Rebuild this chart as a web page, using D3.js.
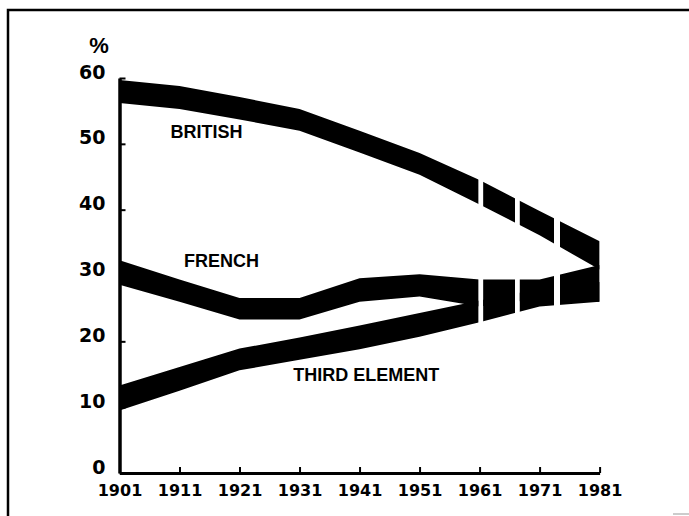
<!DOCTYPE html>
<html>
<head>
<meta charset="utf-8">
<script src="https://cdn.jsdelivr.net/npm/d3@7"></script>
<style>
  body { margin: 0; background: #fff; }
  svg { display: block; }
  text { font-family: "Liberation Sans", Arial, sans-serif; font-weight: bold; fill: #000; }
  .tick text { font-family: "DejaVu Sans", sans-serif; }
</style>
</head>
<body>
<div id="chart"></div>
<script>
// census years and tick labels
const years = [1901, 1911, 1921, 1931, 1941, 1951, 1961, 1971, 1981];
const yTicks = [0, 10, 20, 30, 40, 50, 60];

// each group is drawn as a band between a low and a high estimate (%)
const britishHigh = [59.7, 58.8, 57.1, 55.3, 52.0, 48.6, 44.5, 39.8, 35.2];
const britishLow  = [56.2, 55.3, 53.7, 52.0, 48.7, 45.3, 40.8, 36.1, 30.9];
const frenchHigh  = [32.3, 29.4, 26.6, 26.6, 29.6, 30.2, 29.4, 29.4, 31.6];
const frenchLow   = [28.6, 26.0, 23.3, 23.3, 26.0, 26.8, 25.3, 26.5, 26.0];
const thirdHigh   = [13.3, 16.1, 18.9, 20.6, 22.4, 24.3, 26.2, 28.0, 29.0];
const thirdLow    = [9.5, 12.5, 15.6, 17.2, 18.8, 20.7, 22.9, 25.3, 26.0];

// the bands are broken into dashes after 1961 (year ranges that are drawn)
const dashes = [[1901, 1960.8], [1961.6, 1966.9], [1967.7, 1973.4], [1974.4, 1981]];

const labels = [
  {text: 'BRITISH', year: 1915.5, value: 51.8},
  {text: 'FRENCH', year: 1918.0, value: 32.2},
  {text: 'THIRD ELEMENT', year: 1942.1, value: 14.9}
];

const width = 689, height = 516;
const svg = d3.select('#chart').append('svg')
  .attr('width', width)
  .attr('height', height);

// scanned frame round the figure
svg.append('path')
  .attr('d', 'M8,516 V10 H689')
  .attr('fill', 'none')
  .attr('stroke', '#000')
  .attr('stroke-width', 2.5);
svg.append('line')
  .attr('x1', 673).attr('x2', 689).attr('y1', 514).attr('y2', 514)
  .attr('stroke', '#bbb').attr('stroke-width', 1.5);

const x = d3.scaleLinear().domain([1901, 1981]).range([119.5, 599.6]);
const y = d3.scaleLinear().domain([0, 60]).range([473, 78]);

// clip for the dashed part
const clip = svg.append('clipPath').attr('id', 'dash-clip');
clip.selectAll('rect')
  .data(dashes)
  .enter()
  .append('rect')
  .attr('x', d => x(d[0]))
  .attr('width', d => x(d[1]) - x(d[0]))
  .attr('y', 0)
  .attr('height', height);

const bands = [
  {high: britishHigh, low: britishLow},
  {high: frenchHigh, low: frenchLow},
  {high: thirdHigh, low: thirdLow}
];

const area = d3.area()
  .x((d, i) => x(years[i]))
  .y0((d, i) => y(d.low))
  .y1((d, i) => y(d.high));

const g = svg.append('g').attr('clip-path', 'url(#dash-clip)');
g.selectAll('path')
  .data(bands)
  .enter()
  .append('path')
  .attr('d', function (b) {
    return area(years.map((yr, i) => ({low: b.low[i], high: b.high[i]})));
  })
  .attr('fill', '#000');

// axes
const yAxis = d3.axisLeft(y)
  .tickValues(yTicks)
  .tickSizeInner(-6)
  .tickSizeOuter(0)
  .tickPadding(14);
const gy = svg.append('g')
  .attr('transform', 'translate(' + x(1901) + ',0)')
  .call(yAxis);
gy.select('.domain').attr('stroke-width', 3.5);
gy.selectAll('.tick line').attr('stroke-width', 2);
gy.selectAll('.tick text')
  .attr('y', -6)
  .style('font-size', '19px');

const xAxis = d3.axisBottom(x)
  .tickValues(years)
  .tickFormat(d3.format('d'))
  .tickSizeInner(-6)
  .tickSizeOuter(0)
  .tickPadding(12);
const gx = svg.append('g')
  .attr('transform', 'translate(0,' + y(0) + ')')
  .call(xAxis);
gx.select('.domain').attr('stroke-width', 3);
gx.selectAll('.tick line').attr('stroke-width', 2);
gx.selectAll('.tick text')
  .style('font-size', '16px');

svg.append('text')
  .attr('x', 99)
  .attr('y', 45)
  .attr('text-anchor', 'middle')
  .attr('dominant-baseline', 'central')
  .style('font-size', '22px')
  .text('%');

svg.selectAll('.band-label')
  .data(labels)
  .enter()
  .append('text')
  .attr('class', 'band-label')
  .attr('x', d => x(d.year))
  .attr('y', d => y(d.value))
  .attr('text-anchor', 'middle')
  .attr('dominant-baseline', 'central')
  .style('font-size', '18px')
  .text(d => d.text);
</script>
</body>
</html>
